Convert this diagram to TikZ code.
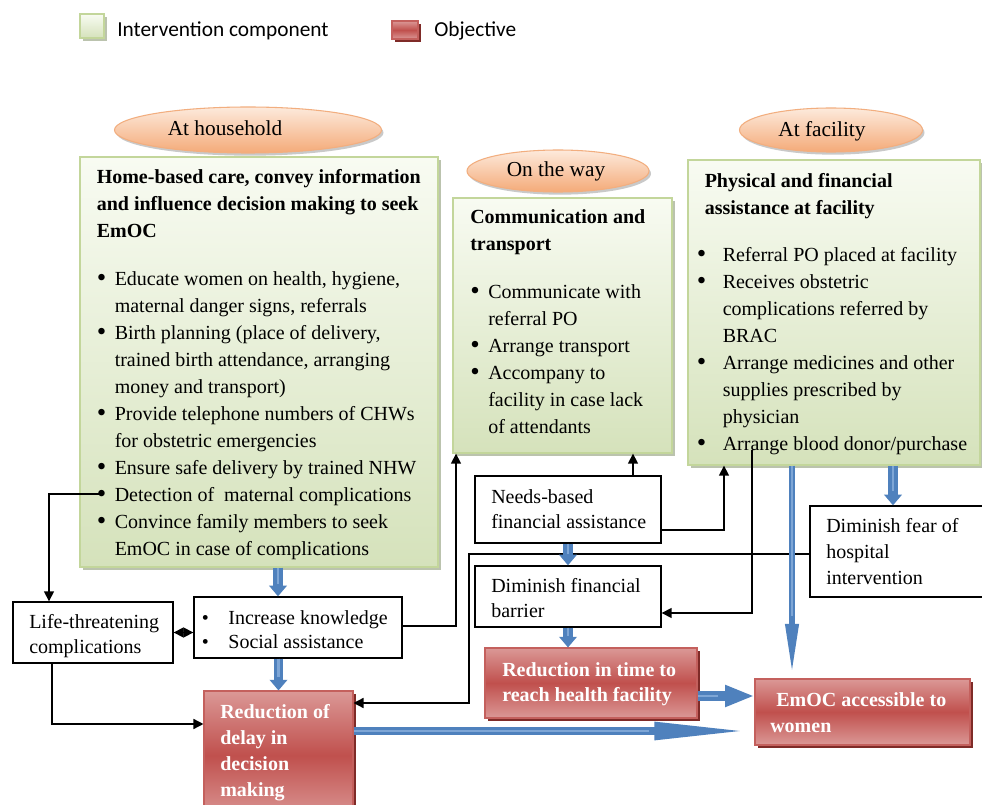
\documentclass[tikz,border=0pt]{standalone}
\usepackage{fontspec}
\setmainfont{Liberation Serif}
\newfontfamily\legfont{Carlito}
\usetikzlibrary{arrows.meta,shadows,fit,shapes.geometric,calc}
\definecolor{gbord}{HTML}{C3D69B}
\definecolor{gtop}{HTML}{F8FBF2}
\definecolor{gbot}{HTML}{D5E2BB}
\definecolor{gshad}{HTML}{B4BDA6}
\definecolor{rmid}{HTML}{C0504D}
\definecolor{redge}{HTML}{DB9896}
\definecolor{rbord}{HTML}{C4605D}
\definecolor{rshadow}{HTML}{7F2B28}
\definecolor{otop}{HTML}{FDEADC}
\definecolor{obot}{HTML}{F4AA78}
\definecolor{obord}{HTML}{F2AE7F}
\definecolor{bluea}{HTML}{4F81BD}
\definecolor{blueb}{HTML}{7EA6D6}
\newcommand{\bdot}{\raisebox{-0.6pt}{\scalebox{1.35}{\textbullet}}}
\newcommand{\bl}{\makebox[13.5pt][l]{\bdot}}
\newcommand{\ind}{\hspace*{13.5pt}}
\newcommand{\blb}{\makebox[19.5pt][l]{\bdot}}
\newcommand{\indb}{\hspace*{19.5pt}}
\newcommand{\blc}{\makebox[20pt][l]{\textbullet}}
\begin{document}
\begin{tikzpicture}[x=0.75pt, y=-0.75pt,
  gbox/.style={draw=gbord, line width=1pt, top color=gtop, bottom color=gbot, inner sep=0pt,
    drop shadow={shadow xshift=2.2pt, shadow yshift=-2.2pt, fill=gshad, opacity=0.9}},
  rbox/.style={draw=rbord, line width=0.8pt, top color=redge, bottom color=redge, middle color=rmid, inner sep=0pt,
    drop shadow={shadow xshift=2.2pt, shadow yshift=-2.2pt, fill=rshadow, opacity=1}},
  wbox/.style={draw=black, line width=1pt, fill=white, inner sep=0pt},
  oval/.style={ellipse, draw=obord, line width=0.8pt, top color=otop, bottom color=obot, inner sep=0pt,
    drop shadow={shadow xshift=1.5pt, shadow yshift=-2pt, fill=black!35, opacity=0.6}},
  txt/.style={inner sep=0pt, anchor=north west, align=left, font=\fontsize{15}{20.25}\selectfont},
  txts/.style={inner sep=0pt, anchor=north west, align=left, font=\fontsize{15}{19}\selectfont},
  txtm/.style={inner sep=0pt, anchor=north west, align=left, font=\fontsize{15}{19.5}\selectfont},
  rtxt/.style={inner sep=0pt, anchor=north west, align=left, text=white, font=\fontsize{15}{19.5}\selectfont\bfseries},
  otxt/.style={inner sep=0pt, anchor=base, font=\fontsize{16}{19}\selectfont},
  ltxt/.style={inner sep=0pt, anchor=base west, font=\legfont\fontsize{16}{19}\selectfont},
  conn/.style={line width=1.1pt, -{Triangle[width=7.5pt,length=7.5pt]}},
  barrow/.style={draw=bluea, line width=7pt, -{Triangle[width=13pt,length=8pt]}},
  bmid/.style={draw=bluea, line width=7pt, -{Triangle[width=15pt,length=22pt]}},
  blong/.style={draw=bluea, line width=6.5pt, -{Triangle[width=12pt,length=75pt]}},
  bthin/.style={draw=bluea, line width=5pt, -{Triangle[width=9pt,length=41pt]}},
  hl/.style={draw=blueb, line width=2pt}
]
\useasboundingbox (0,0) rectangle (982,805);
\clip (0,0) rectangle (982,805);
\fill[white] (0,0) rectangle (982,805);

% legend
\node[gbox, fit={(80,14) (104,38)}] (leg1) {};
\node[ltxt] (leg1t) at (117,37) {Intervention component};
\node[rbox, fit={(392,21) (418,39)}] (leg2) {};
\node[ltxt] (leg2t) at (434,37) {Objective};

% green boxes
\node[gbox, fit={(80,157) (438,567)}] (box1) {};
\node[gbox, fit={(453,198) (672,453)}] (box2) {};
\node[gbox, fit={(688,160) (980,465)}] (box3) {};

\node[txt] (t1) at (96.5,164.1) {\strut\textbf{Home-based care, convey information}\\
\textbf{and influence decision making to seek}\\
\textbf{EmOC}\\[15.75pt]
\bl Educate women on health, hygiene,\\
\ind maternal danger signs, referrals\\
\bl Birth planning (place of delivery,\\
\ind trained birth attendance, arranging\\
\ind money and transport)\\
\bl Provide telephone numbers of CHWs\\
\ind for obstetric emergencies\\
\bl Ensure safe delivery by trained NHW\\
\bl Detection of~ maternal complications\\
\bl Convince family members to seek\\
\ind EmOC in case of complications};

\node[txt] (t2) at (470,204.1) {\strut\textbf{Communication and}\\
\textbf{transport}\\[15.75pt]
\bl Communicate with\\
\ind referral PO\\
\bl Arrange transport\\
\bl Accompany to\\
\ind facility in case lack\\
\ind of attendants};

\node[txt] (t3) at (696.5,168.1) {\strut\hspace*{6pt}\textbf{Physical and financial}\\
\hspace*{6pt}\textbf{assistance at facility}\\[15pt]
\blb Referral PO placed at facility\\
\blb Receives obstetric\\
\indb complications referred by\\
\indb BRAC\\
\blb Arrange medicines and other\\
\indb supplies prescribed by\\
\indb physician\\
\blb Arrange blood donor/purchase};

% ovals
\node[oval, minimum width=267*0.75pt, minimum height=46*0.75pt] (e1) at (248,130) {};
\node[otxt] (e1t) at (225,136) {At household};
\node[oval, minimum width=182*0.75pt, minimum height=42*0.75pt] (e2) at (558,171) {};
\node[otxt] (e2t) at (556,177) {On the way};
\node[oval, minimum width=183*0.75pt, minimum height=44*0.75pt] (e3) at (831,130) {};
\node[otxt] (e3t) at (822,137) {At facility};

% white boxes
\node[wbox, fit={(13,602) (173,663)}] (lt) {};
\node[txts] (ltt) at (29,610.3) {\strut Life-threatening\\complications};
\node[wbox, fit={(194,597) (402,658)}] (ik) {};
\node[inner sep=0pt, anchor=north west, align=left, font=\fontsize{15}{18}\selectfont] (ikt) at (201.5,607.2) {\strut\blc Increase knowledge\\\blc Social assistance};
\node[wbox, fit={(475,476) (661,543)}] (nb) {};
\node[txts] (nbt) at (491,485.3) {\strut Needs-based\\financial assistance};
\node[wbox, fit={(475,566) (661,627)}] (df) {};
\node[txts] (dft) at (491,574.3) {\strut Diminish financial\\barrier};
\node[wbox, fit={(810,506) (995,597)}] (fear) {};
\node[txtm] (feart) at (826,513.8) {\strut Diminish fear of\\hospital\\intervention};

% red boxes
\node[rbox, fit={(204,691) (353,820)}] (rd) {};
\node[rtxt] (rdt) at (220,699.8) {\strut Reduction of\\delay in\\decision\\making};
\node[rbox, fit={(485,648) (697,718)}] (rt) {};
\node[rtxt, font=\fontsize{15}{19}\selectfont\bfseries] (rtt) at (502,658.3) {\strut Reduction in time to\\reach health facility};
\node[rbox, fit={(755,679) (970,745)}] (emoc) {};
\node[rtxt] (emoct) at (770,687.8) {\strut\hspace*{4.5pt}EmOC accessible to\\women};

% black connectors
\coordinate (det) at (100,494);
\coordinate (bd) at (752,450);
\coordinate (bend) at (469,554);
\draw[conn] (det) -| (lt.north -| 49,0);
\draw[line width=1.1pt, {Triangle[width=7.5pt,length=7.5pt]}-{Triangle[width=7.5pt,length=7.5pt]}] (lt.east) -- (ik.west |- lt.east);
\draw[conn] (lt.south -| 52,0) |- (rd.west |- 0,724);
\draw[conn] (ik.east |- 0,626) -| (box2.south -| 456,0);
\draw[conn] (nb.north -| 633,0) -- (box2.south -| 633,0);
\draw[conn] (nb.east |- 0,530) -| (box3.south -| 724,0);
\draw[conn] (bd) |- (df.east |- 0,613);
\draw[conn] (fear.west |- 0,554) -- (bend) |- (rd.east |- 0,703);

% blue arrows
\draw[barrow] (box1.south -| 278,0) -- (ik.north -| 278,0);
\draw[hl] (box1.south -| 278,0) -- ++(0,16);
\draw[barrow] (ik.south -| rd.north) -- (rd.north);
\draw[hl] (ik.south -| rd.north) -- ++(0,18);
\draw[barrow] (nb.south -| 568,0) -- (df.north -| 568,0);
\draw[hl] (nb.south -| 568,0) -- ++(0,10);
\draw[barrow] (df.south -| 568,0) -- (rt.north -| 568,0);
\draw[hl] (df.south -| 568,0) -- ++(0,8);
\draw[barrow] (box3.south -| 893,0) -- (fear.north -| 893,0);
\draw[hl] (box3.south -| 893,0) -- ++(0,25);
\draw[bthin] (box3.south -| 792,0) -- (emoc.north -| 792,0);
\draw[hl, line width=1.5pt] (box3.south -| 792,0) -- ++(0,150);
\draw[bmid] (rt.east |- 0,696) -- (emoc.west |- 0,696);
\draw[hl] (rt.east |- 0,696) -- ++(20,0);
\draw[blong] (rd.east |- 0,731) -- (emoc.west |- 0,731);
\draw[hl] (rd.east |- 0,731) -- ++(295,0);
\end{tikzpicture}
\end{document}
